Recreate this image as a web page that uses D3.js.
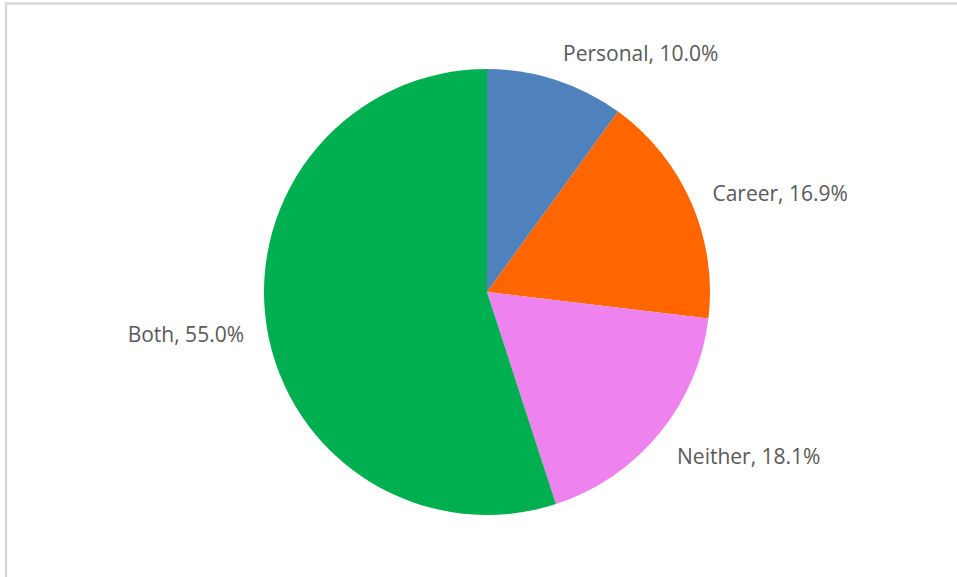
<!DOCTYPE html>
<html>
<head>
<meta charset="utf-8">
<script src="https://cdn.jsdelivr.net/npm/d3@7"></script>
<style>
  html, body { margin: 0; padding: 0; background: #fff; overflow: hidden; }
  svg { display: block; }
</style>
</head>
<body>
<svg id="chart" width="957" height="577"></svg>
<script>
// Share of respondents by type of goal
const categories = ["Personal", "Career", "Neither", "Both"];
const values = [10.0, 16.9, 18.1, 55.0];
const colors = ["#4f81bd", "#ff6600", "#ee82ee", "#00b050"];

const width = 957, height = 577;
const cx = 487, cy = 292, radius = 223;

const svg = d3.select("#chart");

// Chart area frame (only the top and left edges fall inside the view)
svg.append("rect")
  .attr("x", 6).attr("y", 3.5)
  .attr("width", width + 20).attr("height", height + 20)
  .attr("fill", "none")
  .attr("stroke", "#d9d9d9")
  .attr("stroke-width", 2.5);

const data = categories.map((c, i) => ({ name: c, value: values[i], color: colors[i] }));

const pie = d3.pie().sort(null).value(d => d.value);
const arcs = pie(data);

const arc = d3.arc().innerRadius(0).outerRadius(radius);

const g = svg.append("g").attr("transform", `translate(${cx},${cy})`);

g.selectAll("path.slice")
  .data(arcs)
  .join("path")
  .attr("class", "slice")
  .attr("d", arc)
  .attr("fill", d => d.data.color);

// Outside labels: anchored at a point just beyond the rim at each slice's mid angle
const labelRadius = radius + 23;
const fmt = d3.format(".1f");

g.selectAll("text.label")
  .data(arcs)
  .join("text")
  .attr("class", "label")
  .each(function (d) {
    const a = (d.startAngle + d.endAngle) / 2;
    const x = Math.sin(a) * labelRadius;
    const y = -Math.cos(a) * labelRadius - Math.cos(a) * 8 + 2.5;
    d3.select(this)
      .attr("x", x)
      .attr("y", y)
      .attr("text-anchor", Math.sin(a) >= 0 ? "start" : "end");
  })
  .attr("dominant-baseline", "central")
  .attr("font-family", "'Open Sans', 'Noto Sans', sans-serif")
  .attr("font-size", 21)
  .attr("fill", "#595959")
  .text(d => `${d.data.name}, ${fmt(d.data.value)}%`);
</script>
</body>
</html>
